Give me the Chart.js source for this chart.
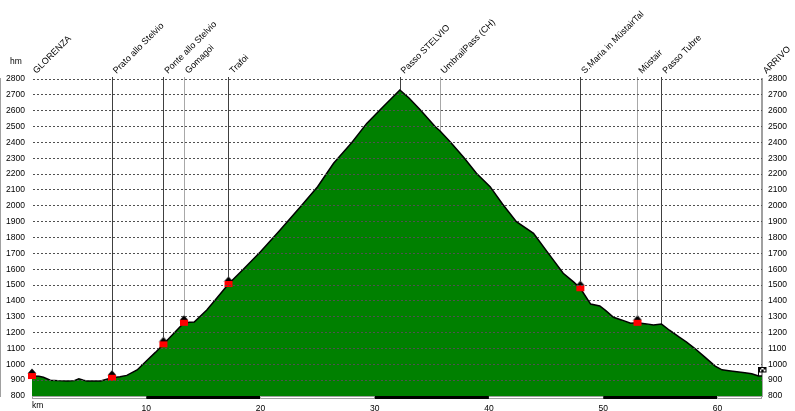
<!DOCTYPE html>
<html>
<head>
<meta charset="utf-8">
<script src="https://cdn.jsdelivr.net/npm/chart.js@4.4.1/dist/chart.umd.min.js"></script>
<style>
  html, body { margin: 0; padding: 0; background: #fff; }
</style>
</head>
<body>
<canvas id="profilo" width="795" height="411"></canvas>
<script>
/* Profilo altimetrico Glorenza – Passo Stelvio – Müstair – Passo Tubre */

const FONT = '"Liberation Sans", Arial, sans-serif';

// profilo (km, quota m)
const profileKm = [0, 0.6, 1.0, 1.6, 2.3, 3.1, 3.7, 4.1, 4.5, 4.8, 6.0, 7.0, 7.7, 8.3, 9.2, 10.1, 10.8, 11.5, 12.4, 13.3,
  13.8, 14.2, 15.3, 16.2, 17.2, 18.5, 20.0, 21.7, 23.5, 25.0, 26.4, 28.0, 29.3, 30.8, 32.2, 33.0, 34.0, 35.3, 35.7, 36.6,
  37.8, 38.9, 40.1, 41.2, 42.4, 43.9, 45.2, 46.5, 47.4, 48.0, 48.9, 49.7, 50.2, 50.9, 51.6, 52.4, 53.0, 53.8, 54.4, 55.1,
  55.8, 56.6, 57.3, 58.0, 58.9, 59.8, 60.4, 61.0, 62.4, 63.0, 63.6, 63.9];
const profileElev = [926, 925, 918, 900, 897, 895, 897, 909, 900, 895, 895, 915, 922, 930, 964, 1027, 1075, 1126, 1195, 1262,
  1265, 1267, 1343, 1420, 1507, 1600, 1710, 1845, 1994, 2120, 2268, 2400, 2520, 2630, 2731, 2680, 2604, 2499, 2474, 2404,
  2305, 2205, 2121, 2010, 1900, 1826, 1700, 1574, 1520, 1480, 1380, 1368, 1340, 1297, 1280, 1259, 1262, 1255, 1248, 1254,
  1215, 1174, 1140, 1101, 1045, 989, 965, 960, 947, 940, 926, 926];

// località
const placeNames = ["GLORENZA", "Prato allo Stelvio", "Ponte allo Stelvio", "Gomagoi", "Trafoi", "Passo STELVIO",
  "UmbrailPass (CH)", "S.Maria in MüstairTal", "Müstair", "Passo Tubre", "ARRIVO"];
const placeKm = [0, 7.0, 11.5, 13.3, 17.2, 32.2, 35.7, 48.0, 53.0, 55.1, 63.9];
const placeElev = [926, 915, 1126, 1262, 1507, 2731, 2474, 1480, 1262, 1254, 926];
const placeHouse = [true, true, true, true, true, false, false, true, true, false, false];

const yMin = 800, yMax = 2800, yStep = 100;
const xMax = 63.9, xStep = 10;

const lightLines = ["Gomagoi", "UmbrailPass (CH)", "Müstair"];

function houseIcon() {
  const c = document.createElement("canvas");
  c.width = 10; c.height = 20;
  const g = c.getContext("2d");
  g.fillStyle = "#000";
  g.beginPath(); g.moveTo(0.5, 7.5); g.lineTo(5, 2.5); g.lineTo(9.5, 7.5); g.closePath(); g.fill();
  g.fillStyle = "#ff0000";
  g.fillRect(1, 7, 8, 6);
  return c;
}

function flagIcon() {
  const c = document.createElement("canvas");
  c.width = 10; c.height = 10;
  const g = c.getContext("2d");
  g.fillStyle = "#fff";
  g.fillRect(2, 1, 7, 5);
  g.fillStyle = "#000";
  for (let r = 0; r < 2; r++) for (let k = 0; k < 3; k++) if ((r + k) % 2 === 0) g.fillRect(2 + k * 2.3, 1 + r * 2.5, 2.3, 2.5);
  g.strokeStyle = "#000"; g.lineWidth = 1;
  g.strokeRect(2.5, 1.5, 6.5, 4.5);
  g.beginPath(); g.moveTo(1.5, 1); g.lineTo(1.5, 10); g.stroke();
  return c;
}

const house = houseIcon();
const flag = flagIcon();

const profiloExtras = {
  id: "profiloExtras",
  beforeDatasetsDraw(chart) {
    const { ctx, scales: { x, y } } = chart;
    const top = y.getPixelForValue(yMax) - 2;
    ctx.save();
    ctx.lineWidth = 1;
    placeNames.forEach((name, i) => {
      if (i === 0 || i === placeNames.length - 1) return;
      const px = Math.round(x.getPixelForValue(placeKm[i])) + 0.5;
      const py = y.getPixelForValue(placeElev[i]) - (placeHouse[i] ? 7 : 0);
      ctx.strokeStyle = lightLines.includes(name) ? "#a8a8a8" : "#404040";
      ctx.beginPath(); ctx.moveTo(px, top); ctx.lineTo(px, py); ctx.stroke();
    });
    ctx.restore();
  },
  afterDraw(chart) {
    const { ctx, scales: { x, y } } = chart;
    ctx.save();
    // barra chilometrica
    const b = y.bottom;
    for (let k = 0, n = 0; k < xMax; k += xStep, n++) {
      const x1 = x.getPixelForValue(k), x2 = x.getPixelForValue(Math.min(k + xStep, xMax));
      if (n % 2) {
        ctx.fillStyle = "#000"; ctx.fillRect(x1, b, x2 - x1, 3);
      } else {
        ctx.fillStyle = "#fff"; ctx.fillRect(x1, b, x2 - x1, 3);
        ctx.strokeStyle = "#a0a0a0"; ctx.lineWidth = 1; ctx.strokeRect(x1 + 0.5, b + 0.5, x2 - x1 - 1, 2);
      }
    }
    // nomi località
    ctx.fillStyle = "#000";
    ctx.font = "9px " + FONT;
    ctx.textAlign = "left"; ctx.textBaseline = "alphabetic";
    placeNames.forEach((name, i) => {
      const px = x.getPixelForValue(placeKm[i]);
      ctx.save();
      ctx.translate(px + 4.5, y.top - 5);
      ctx.rotate(-Math.PI / 4);
      ctx.fillText(name, 0, 0);
      ctx.restore();
    });
    ctx.font = "8.5px " + FONT;
    ctx.textBaseline = "middle";
    ctx.textAlign = "center";
    ctx.fillText("hm", 16, 62);
    ctx.textAlign = "left";
    ctx.fillText("km", x.left, 406);
    ctx.restore();
  }
};

const tickFont = { size: 8.5, family: FONT };
const plain = (v) => String(v);

new Chart(document.getElementById("profilo"), {
  type: "line",
  data: {
    datasets: [
      {
        type: "scatter",
        data: placeKm.map((k, i) => ({ x: k, y: placeElev[i] })).filter((p, i) => placeHouse[i]),
        pointStyle: house,
        pointRadius: 5,
        clip: false,
        order: 0,
      },
      {
        type: "scatter",
        data: [{ x: placeKm[placeKm.length - 1], y: 958 }],
        pointStyle: flag,
        clip: false,
        order: 0,
      },
      {
        data: profileKm.map((k, i) => ({ x: k, y: profileElev[i] })),
        borderColor: "#000",
        borderWidth: 1.5,
        backgroundColor: "#008000",
        fill: "start",
        pointRadius: 0,
        tension: 0,
        order: 2,
      },
    ],
  },
  options: {
    responsive: false,
    animation: false,
    devicePixelRatio: 1,
    layout: { padding: { top: 79, left: 0, right: 0, bottom: 0 } },
    plugins: { legend: { display: false }, tooltip: { enabled: false } },
    scales: {
      x: {
        type: "linear",
        min: 0,
        max: xMax,
        ticks: {
          stepSize: xStep,
          includeBounds: false,
          maxRotation: 0,
          padding: 0,
          color: "#000",
          font: tickFont,
          callback: (v) => (v === 0 ? "" : String(v)),
        },
        grid: { display: false },
        border: { display: false },
        afterFit: (s) => { s.height = 15; },
      },
      y: {
        position: "left",
        min: yMin,
        max: yMax,
        ticks: { stepSize: yStep, padding: 7, color: "#000", font: tickFont, callback: plain },
        grid: {
          color: (c) => (c.tick && c.tick.value === yMin ? "rgba(0,0,0,0)" : "#505050"),
          drawTicks: false,
          z: 1,
        },
        border: { color: "#a0a0a0", width: 2, dash: [2, 2] },
        afterFit: (s) => { s.width = 32; },
      },
      y2: {
        position: "right",
        min: yMin,
        max: yMax,
        ticks: { stepSize: yStep, padding: 6, color: "#000", font: tickFont, callback: plain },
        grid: { drawOnChartArea: false, drawTicks: false },
        border: { color: "#a0a0a0", width: 2 },
        afterFit: (s) => { s.width = 33; },
      },
    },
  },
  plugins: [profiloExtras],
});
</script>
</body>
</html>
